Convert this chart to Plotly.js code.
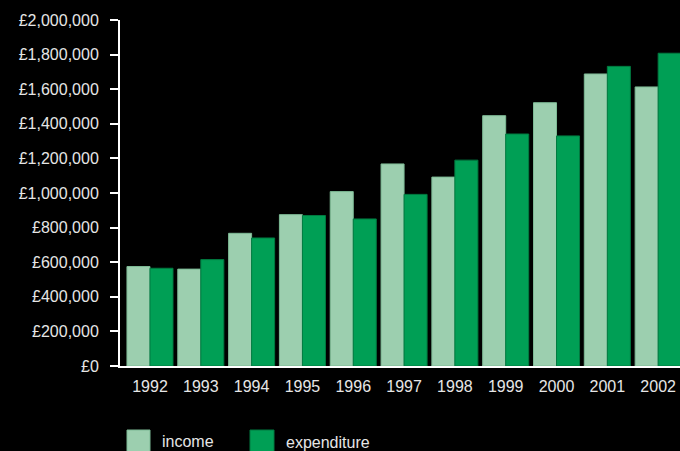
<!DOCTYPE html>
<html>
<head>
<meta charset="utf-8">
<script src="https://cdn.plot.ly/plotly-3.0.1.min.js"></script>
<style>html,body{margin:0;padding:0;background:#000;}#chart{width:680px;height:451px;}</style>
</head>
<body>
<div id="chart"></div>
<script>
var years = ['1992','1993','1994','1995','1996','1997','1998','1999','2000','2001','2002'];
var income = [575000, 560000, 767000, 875000, 1008000, 1168000, 1092000, 1447000, 1522000, 1688000, 1613000];
var expenditure = [565000, 615000, 740000, 870000, 850000, 992000, 1190000, 1341000, 1330000, 1732000, 1808000];
var yTicks = [0, 200000, 400000, 600000, 800000, 1000000, 1200000, 1400000, 1600000, 1800000, 2000000];
var yTickText = ['\u00a30', '\u00a3200,000', '\u00a3400,000', '\u00a3600,000', '\u00a3800,000', '\u00a31,000,000',
  '\u00a31,200,000', '\u00a31,400,000', '\u00a31,600,000', '\u00a31,800,000', '\u00a32,000,000'];
var seriesNames = ['income', 'expenditure'];
var colors = ['#9ccfaf', '#009f55'];
var lineColors = ['#7dba95', '#007a40'];

var fontFam = '"Liberation Sans", Arial, sans-serif';
var textColor = '#e6e6e6';
var fs = 16;

var traces = [income, expenditure].map(function (vals, i) {
  return {
    type: 'bar', x: years, y: vals, name: seriesNames[i],
    marker: {color: colors[i], line: {color: lineColors[i], width: 1}},
    showlegend: false, hoverinfo: 'x+y'
  };
});

// legend (custom, large swatches)
var L = 120, W = 560, T = 20, H = 346;
function px(x) { return (x - L) / W; }
function py(y) { return (T + H - y) / H; }
var legendX = [[127, 150, 160], [250, 274, 284]];
var shapes = [], annotations = [];
seriesNames.forEach(function (n, i) {
  shapes.push({type: 'rect', xref: 'paper', yref: 'paper',
    x0: px(legendX[i][0]), x1: px(legendX[i][1]), y0: py(430), y1: py(456),
    fillcolor: colors[i], line: {color: lineColors[i], width: 1}});
  annotations.push({xref: 'paper', yref: 'paper', x: px(legendX[i][2]), y: py(441 + i),
    xanchor: 'left', yanchor: 'middle', showarrow: false, text: n,
    font: {family: fontFam, size: fs, color: textColor}});
});

var layout = {
  width: 680, height: 451,
  paper_bgcolor: '#000', plot_bgcolor: '#000',
  margin: {l: 120, r: 0, t: 20, b: 85, pad: 0},
  barmode: 'group', bargap: 0.094, bargroupgap: 0,
  font: {family: fontFam, size: fs, color: textColor},
  xaxis: {
    type: 'category', range: [-0.59, 10.43], showgrid: false, zeroline: false,
    showline: true, linecolor: '#ffffff', linewidth: 2, ticks: '',
    ticklabelstandoff: 5,
    tickfont: {family: fontFam, size: fs, color: textColor}
  },
  yaxis: {
    range: [0, 2000000], tickvals: yTicks, ticktext: yTickText,
    showgrid: false, zeroline: false, showline: true, linecolor: '#ffffff', linewidth: 2,
    ticks: 'outside', ticklen: 8, tickwidth: 2, tickcolor: '#ffffff',
    ticklabelstandoff: 8,
    tickfont: {family: fontFam, size: fs, color: textColor}
  },
  shapes: shapes, annotations: annotations
};

Plotly.newPlot('chart', traces, layout, {displayModeBar: false, staticPlot: true});
</script>
</body>
</html>
